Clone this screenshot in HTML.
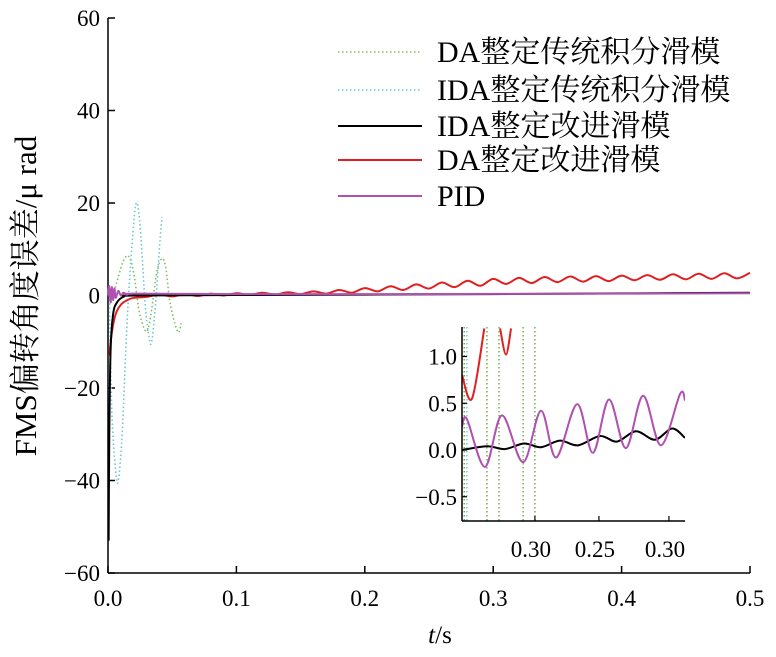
<!DOCTYPE html>
<html><head><meta charset="utf-8"><style>
body{margin:0;background:#fff}
svg{display:block}
text{font-family:"Liberation Serif","Noto Serif CJK SC",serif;fill:#000}
</style></head><body>
<svg id="chart" width="776" height="657" viewBox="0 0 776 657"></svg>
<script>
// ---- main chart data ----
const xTicks=[0,0.1,0.2,0.3,0.4,0.5];
const xTickLabels=["0.0","0.1","0.2","0.3","0.4","0.5"];
const yTicks=[-60,-40,-20,0,20,40,60];
const yTickLabels=["\u221260","\u221240","\u221220","0","20","40","60"];
const greenT=[0.004,0.008,0.012,0.016,0.020,0.024,0.028,0.031,0.034,0.038,0.042,0.045,0.048,0.052,0.055,0.057];
const greenV=[0,4,7.5,8.5,5,-3,-7,-7.5,-3,5,8,6,-1,-6,-8,-6];
const cyanT=[0.001,0.003,0.006,0.008,0.011,0.015,0.019,0.022,0.025,0.029,0.032,0.034,0.037,0.040,0.042];
const cyanV=[0,-25,-38,-40,-30,-5,12,20,15,-2,-9,-10,-2,10,17];
const blackT=[0.0005,0.001,0.002,0.004,0.007,0.012,0.02,0.1,0.2,0.3,0.4,0.5];
const blackV=[-53,-30,-12,-4,-1.5,-0.3,0,0.1,0.2,0.3,0.45,0.6];
const redT=[0.001,0.003,0.006,0.01,0.015,0.02,0.03,0.04,0.05,0.06,0.07,0.08,0.09,0.10,0.11,0.12,0.13,0.14,0.15,0.16,0.17,0.18,0.19,0.20,0.21,0.22,0.23,0.24,0.25,0.26,0.27,0.28,0.29,0.30,0.31,0.32,0.33,0.34,0.35,0.36,0.37,0.38,0.39,0.40,0.41,0.42,0.43,0.44,0.45,0.46,0.47,0.48,0.49,0.50];
const redV=[-13,-8,-4,-2,-1,-0.5,-0.3,0.2,-0.2,0.3,-0.1,0.4,0,0.5,0.1,0.6,0.2,0.7,0.3,0.9,0.4,1.2,0.6,1.6,0.9,2.0,1.2,2.4,1.5,2.8,1.8,3.2,2.1,3.6,2.5,3.8,2.7,4.0,2.9,4.1,3.0,4.2,3.1,4.3,3.3,4.4,3.4,4.6,3.5,4.7,3.6,4.8,3.7,4.9];
const pidT=[0,0.001,0.002,0.003,0.004,0.005,0.006,0.008,0.01,0.012,0.015,0.02,0.1,0.2,0.3,0.4,0.5];
const pidV=[0,2,-1.5,1.8,-1,1.5,-0.5,1,0,0.6,0.2,0.4,0.3,0.3,0.35,0.4,0.5];
// ---- inset data (x = relative position 0..1) ----
const insetYTicks=[-0.5,0,0.5,1.0];
const insetYLabels=["\u22120.5","0.0","0.5","1.0"];
const insetXTicks=[0.327,0.614,0.928];
const insetXLabels=["0.30","0.25","0.30"];
const inPidX=[0,0.022,0.103,0.179,0.274,0.354,0.422,0.516,0.587,0.659,0.735,0.812,0.892,0.978,1.0];
const inPidV=[0.25,0.33,-0.18,0.37,-0.13,0.42,-0.08,0.49,-0.03,0.54,0.02,0.58,0.05,0.6,0.53];
const inBlackX=[0,0.112,0.193,0.278,0.354,0.439,0.52,0.619,0.695,0.780,0.865,0.942,1.0];
const inBlackV=[0,0.04,0.01,0.07,0.03,0.1,0.05,0.15,0.09,0.2,0.11,0.23,0.13];
const inRed1X=[0,0.045,0.1];
const inRed1V=[0.8,0.55,1.3];
const inRed2X=[0.171,0.197,0.22];
const inRed2V=[1.3,1.02,1.3];
const inGreenX=[0.01,0.112,0.166,0.274,0.327];
const inCyanX=[0.022];

const NS="http://www.w3.org/2000/svg";
const svg=document.getElementById('chart');
function mk(tag,attrs,parent){const e=document.createElementNS(NS,tag);for(const k in attrs)e.setAttribute(k,attrs[k]);(parent||svg).appendChild(e);return e;}
const X0=108,X1=750,Y0=573,Y1=18;
const sx=t=>X0+(t-0)/(0.5)*(X1-X0);
const sy=v=>Y0-(v+60)/120*(Y0-Y1);
function smooth(pts){let d="M"+pts[0][0]+","+pts[0][1];for(let i=0;i<pts.length-1;i++){const p0=pts[i-1]||pts[i],p1=pts[i],p2=pts[i+1],p3=pts[i+2]||p2;const c1=[p1[0]+(p2[0]-p0[0])/6,p1[1]+(p2[1]-p0[1])/6],c2=[p2[0]-(p3[0]-p1[0])/6,p2[1]-(p3[1]-p1[1])/6];d+=`C${c1[0]},${c1[1]} ${c2[0]},${c2[1]} ${p2[0]},${p2[1]}`;}return d;}

// axes
const axes=mk('g',{});
mk('line',{x1:X0,y1:Y1,x2:X0,y2:Y0,stroke:'#000','stroke-width':1.5},axes);
mk('line',{x1:X0,y1:Y0,x2:X1,y2:Y0,stroke:'#000','stroke-width':1.5},axes);
yTicks.forEach((v,i)=>{mk('line',{x1:X0,y1:sy(v),x2:X0+7,y2:sy(v),stroke:'#000','stroke-width':1.5},axes);
 const t=mk('text',{x:X0-8,y:sy(v)+8,'text-anchor':'end','font-size':23},axes);t.textContent=yTickLabels[i];
 });
xTicks.forEach((v,i)=>{mk('line',{x1:sx(v),y1:Y0,x2:sx(v),y2:Y0-7,stroke:'#000','stroke-width':1.5},axes);
 const t=mk('text',{x:sx(v),y:Y0+33,'text-anchor':'middle','font-size':23},axes);t.textContent=xTickLabels[i];
 });

function series(T,V,color,w,dash,name,fx,fy,parent){const p=mk('path',{d:smooth(T.map((t,i)=>[fx(t),fy(V[i])])),fill:'none',stroke:color,'stroke-width':w},parent);
 if(dash)p.setAttribute('stroke-dasharray',dash);return p;}
series(greenT,greenV,'#7fbf5a',1.6,'1.5,2.5','series-da-traditional',sx,sy);
series(cyanT,cyanV,'#6cc8d8',1.6,'1.5,2.5','series-ida-traditional',sx,sy);
series(redT,redV,'#e02020',2,null,'series-da-improved',sx,sy);
series(blackT,blackV,'#000',2,null,'series-ida-improved',sx,sy);
series(pidT,pidV,'#b050b0',2,null,'series-pid',sx,sy);

// titles
let yt=mk('text',{transform:'translate(36,296) rotate(-90)','text-anchor':'middle','font-size':31});yt.textContent='FMS偏转角度误差/μ rad';

let xt=mk('text',{x:440,y:643,'text-anchor':'middle','font-size':25});xt.innerHTML='<tspan font-style="italic">t</tspan>/s';


// legend
const legNames=["DA整定传统积分滑模","IDA整定传统积分滑模","IDA整定改进滑模","DA整定改进滑模","PID"];
const legColors=['#7fbf5a','#6cc8d8','#000','#e02020','#b050b0'];
const legDash=['1.5,2.5','1.5,2.5',null,null,null];
const legY=[52,90,126,160,196];
const leg=mk('g',{});
legNames.forEach((n,i)=>{const g=mk('g',{},leg);
 const l=mk('line',{x1:338,y1:legY[i],x2:422,y2:legY[i],stroke:legColors[i],'stroke-width':legDash[i]?1.6:2},g);if(legDash[i])l.setAttribute('stroke-dasharray',legDash[i]);
 const t=mk('text',{x:437,y:legY[i]+10,'font-size':30},g);t.textContent=n;});

// inset
const IX0=462,IX1=685,IYB=521,IYT=327;
const ix=r=>IX0+r*(IX1-IX0);
const iy=v=>450-v*93.5;
const ins=mk('g',{});
mk('rect',{x:IX0,y:IYT,width:IX1-IX0,height:IYB-IYT,fill:'#fff'},ins);
mk('clipPath',{id:'ic'},ins);mk('rect',{x:IX0,y:IYT,width:IX1-IX0,height:IYB-IYT},document.getElementById('ic'));
const ig=mk('g',{'clip-path':'url(#ic)'},ins);
inGreenX.forEach(r=>{const l=mk('line',{x1:ix(r),y1:IYT,x2:ix(r),y2:IYB,stroke:'#6aaa40','stroke-width':1.4,'stroke-dasharray':'1.5,2.5'},ig);});
inCyanX.forEach(r=>{const l=mk('line',{x1:ix(r),y1:IYT,x2:ix(r),y2:IYB,stroke:'#6cc8d8','stroke-width':1.4,'stroke-dasharray':'1.5,2.5'},ig);});
series(inRed1X,inRed1V,'#e02020',2,null,'inset-da-improved',ix,iy,ig);
series(inRed2X,inRed2V,'#e02020',2,null,'inset-da-improved',ix,iy,ig);
series(inBlackX,inBlackV,'#000',2,null,'inset-ida-improved',ix,iy,ig);
series(inPidX,inPidV,'#b050b0',2,null,'inset-pid',ix,iy,ig);
mk('line',{x1:IX0,y1:IYT,x2:IX0,y2:IYB,stroke:'#000','stroke-width':1.5},ins);
mk('line',{x1:IX0,y1:IYB,x2:IX1,y2:IYB,stroke:'#000','stroke-width':1.5},ins);
insetYTicks.forEach((v,i)=>{mk('line',{x1:IX0,y1:iy(v),x2:IX0+5,y2:iy(v),stroke:'#000','stroke-width':1.2},ins);
 const t=mk('text',{x:IX0-5,y:iy(v)+8,'text-anchor':'end','font-size':23},ins);t.textContent=insetYLabels[i];
 });
insetXTicks.forEach((r,i)=>{mk('line',{x1:ix(r),y1:IYB,x2:ix(r),y2:IYB-5,stroke:'#000','stroke-width':1.2},ins);
 const t=mk('text',{x:ix(r)-4,y:IYB+36,'text-anchor':'middle','font-size':23},ins);t.textContent=insetXLabels[i];
 });
</script>
</body></html>
